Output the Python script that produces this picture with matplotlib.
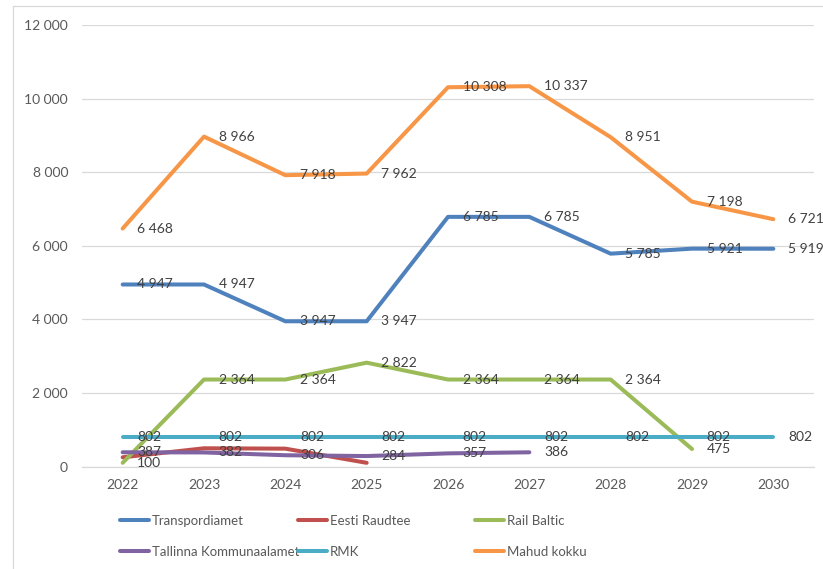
import matplotlib.pyplot as plt
from matplotlib.lines import Line2D
import numpy as np

plt.rcParams['font.family'] = ['Lato', 'DejaVu Sans']

years = ["2022", "2023", "2024", "2025", "2026", "2027", "2028", "2029", "2030"]
nan = np.nan

transpordiamet = [4947, 4947, 3947, 3947, 6785, 6785, 5785, 5921, 5919]
eesti_raudtee = [250, 495, 485, 100, nan, nan, nan, nan, nan]
rail_baltic = [100, 2364, 2364, 2822, 2364, 2364, 2364, 475, nan]
tallinna_komm = [387, 382, 306, 284, 357, 386, nan, nan, nan]
rmk = [802, 802, 802, 802, 802, 802, 802, 802, 802]
mahud_kokku = [6468, 8966, 7918, 7962, 10308, 10337, 8951, 7198, 6721]

series = [
    ("Transpordiamet", transpordiamet, "#4F81BD", True),
    ("Eesti Raudtee", eesti_raudtee, "#C0504D", False),
    ("Rail Baltic", rail_baltic, "#9BBB59", True),
    ("Tallinna Kommunaalamet", tallinna_komm, "#8064A2", True),
    ("RMK", rmk, "#4BACC6", True),
    ("Mahud kokku", mahud_kokku, "#F79646", True),
]

yticks = [0, 2000, 4000, 6000, 8000, 10000, 12000]


def fmt(v):
    return "{:,}".format(int(v)).replace(",", " ")


fig = plt.figure(figsize=(8.23, 5.69), dpi=100)
ax = fig.add_axes([82 / 823, 102.5 / 569, 732 / 823, 441.5 / 569])

x = np.arange(len(years))
handles = []
for name, vals, color, labelled in series:
    h, = ax.plot(x, vals, color=color, lw=2.9, solid_capstyle="round",
                 solid_joinstyle="round", label=name)
    handles.append(h)

for name, vals, color, labelled in series:
    if not labelled:
        continue
    for xi, v in zip(x, vals):
        if np.isnan(v):
            continue
        ax.annotate(fmt(v), (xi, v), xytext=(10.5, 0), textcoords="offset points",
                    ha="left", va="center", fontsize=10, color="#404040", zorder=5)

ax.set_xlim(-0.5, len(years) - 0.5)
ax.set_ylim(0, 12000)
ax.set_xticks(x)
ax.set_xticklabels(years)
ax.set_yticks(yticks)
ax.set_yticklabels([fmt(t) for t in yticks])
ax.tick_params(axis="both", length=0, labelsize=10, labelcolor="#595959")
ax.tick_params(axis="y", pad=10)
ax.tick_params(axis="x", pad=9)
ax.grid(axis="y", color="#D9D9D9", lw=0.9)
ax.set_axisbelow(True)
for s in ["left", "top", "right"]:
    ax.spines[s].set_visible(False)
ax.spines["bottom"].set_color("#D9D9D9")
ax.spines["bottom"].set_linewidth(0.9)

# legend: three columns, row-major like Excel
col_x = [116 / 823, 294 / 823, 471 / 823]
for c in range(3):
    leg = fig.legend(handles=[handles[c], handles[c + 3]], loc="upper left",
                     bbox_to_anchor=(col_x[c], 1 - 511 / 569), frameon=False,
                     fontsize=9.5, handlelength=2.2, handletextpad=0.2,
                     labelspacing=1.45, borderaxespad=0, borderpad=0.3)
    for t in leg.get_texts():
        t.set_color("#595959")

# chart frame
fig.add_artist(Line2D([13 / 823, 13 / 823], [0, 1 - 6 / 569], color="#D9D9D9", lw=0.9))
fig.add_artist(Line2D([13 / 823, 1], [1 - 6 / 569, 1 - 6 / 569], color="#D9D9D9", lw=0.9))

fig.savefig("out.png", dpi=100)
